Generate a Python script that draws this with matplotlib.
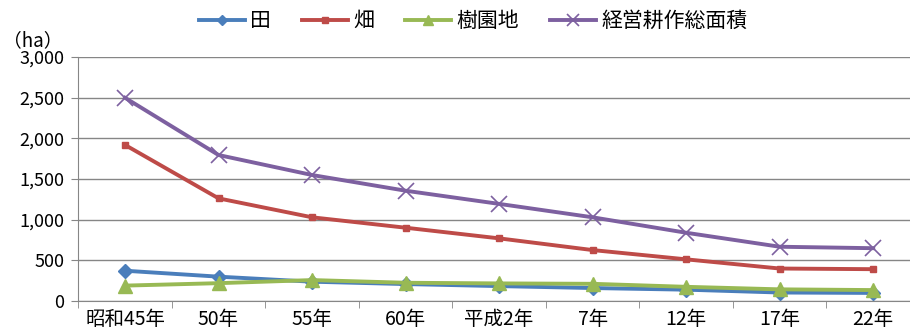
import matplotlib.pyplot as plt

plt.rcParams['font.family'] = ['Noto Sans CJK JP', 'DejaVu Sans']

years = ['昭和45年', '50年', '55年', '60年', '平成2年', '7年', '12年', '17年', '22年']
ta = [373, 300, 238, 209, 184, 160, 140, 105, 100]
hatake = [1920, 1263, 1030, 902, 771, 627, 513, 400, 392]
jukuen = [190, 220, 258, 225, 217, 212, 175, 144, 135]
total = [2500, 1796, 1550, 1357, 1195, 1030, 840, 668, 650]

fig = plt.figure(figsize=(9.1, 3.36), dpi=100)
ax = fig.add_axes([0.086, 0.104, 0.925, 0.726])

x = list(range(len(years)))
ax.plot(x, ta, color='#4A7EBB', lw=2.8, marker='D', ms=7, label='田')
ax.plot(x, hatake, color='#BE4B48', lw=2.8, marker='s', ms=5, label='畑')
ax.plot(x, jukuen, color='#98B954', lw=2.8, marker='^', ms=10, label='樹園地')
ax.plot(x, total, color='#7D60A0', lw=2.8, marker='x', ms=11, mew=1.2, label='経営耕作総面積')

ax.set_xlim(-0.5, len(years) - 0.5)
ax.set_ylim(0, 3000)
ax.set_yticks(range(0, 3001, 500))
ax.set_yticklabels([f'{v:,}' for v in range(0, 3001, 500)], fontsize=13)
ax.set_xticks(x)
ax.set_xticklabels(years, fontsize=14)
ax.set_xticks([i + 0.5 for i in range(-1, len(years))], minor=True)
ax.tick_params(axis='x', which='major', length=0, pad=6)
ax.tick_params(axis='x', which='minor', length=5, color='#868686')
ax.tick_params(axis='y', length=5, color='#868686', pad=5)

ax.grid(axis='y', color='#868686', lw=1)
ax.set_axisbelow(True)
for s in ['top', 'right']:
    ax.spines[s].set_visible(False)
ax.spines['left'].set_color('#868686')
ax.spines['bottom'].set_color('#868686')

fig.text(0.003, 0.878, '（ha）', fontsize=13.5, va='center')
leg = fig.legend(loc='upper center', bbox_to_anchor=(0.52, 1.025), ncol=4, frameon=False,
                 fontsize=15, handlelength=2.2, columnspacing=1.5, handletextpad=0.25,
                 markerscale=0.75)

fig.savefig('out.png', dpi=100)
